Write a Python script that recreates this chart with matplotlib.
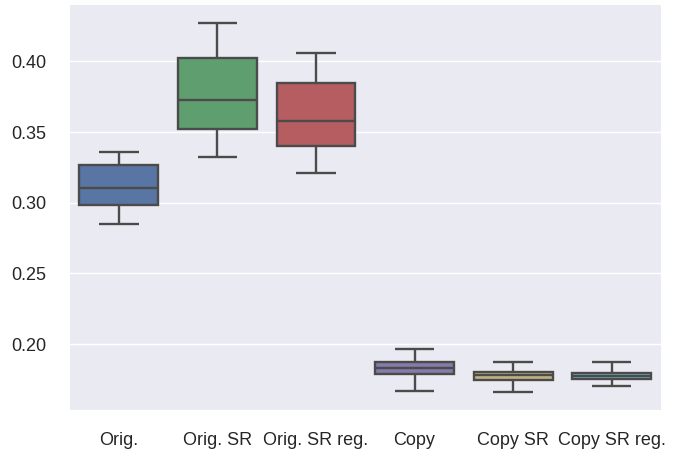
import colorsys
import matplotlib
matplotlib.use("Agg")
import matplotlib.pyplot as plt
import matplotlib.colors as mcolors

# box statistics
labels = ["Orig.", "Orig. SR", "Orig. SR reg.", "Copy", "Copy SR", "Copy SR reg."]
whis_lo = [0.2853, 0.3322, 0.3212, 0.1666, 0.1664, 0.1701]
q1 = [0.2983, 0.3521, 0.3400, 0.1789, 0.1749, 0.1756]
med = [0.3101, 0.3726, 0.3577, 0.1829, 0.1782, 0.1777]
q3 = [0.3266, 0.4023, 0.3844, 0.1874, 0.1800, 0.1796]
whis_hi = [0.3358, 0.4269, 0.4057, 0.1966, 0.1871, 0.1871]

palette = ["#4C72B0", "#55A868", "#C44E52", "#8172B2", "#CCB974", "#64B5CD"]


def desaturate(c, prop=0.75):
    h, l, s = colorsys.rgb_to_hls(*mcolors.to_rgb(c))
    return colorsys.hls_to_rgb(h, l, s * prop)


plt.rcParams["font.family"] = ["Liberation Sans", "DejaVu Sans"]

fig = plt.figure(figsize=(6.76, 4.53), dpi=100)
ax = fig.add_axes([69.5 / 676, 43 / 453, 591.5 / 676, 405 / 453])
ax.set_facecolor("#EAEAF2")
for s in ax.spines.values():
    s.set_visible(False)

stats = []
for i in range(len(labels)):
    stats.append(dict(label=labels[i], whislo=whis_lo[i], q1=q1[i], med=med[i],
                      q3=q3[i], whishi=whis_hi[i], fliers=[]))

gray = "#4b4b4b"
lw = 1.7
bp = ax.bxp(stats, positions=range(len(labels)), widths=0.8, patch_artist=True,
            showfliers=False,
            boxprops=dict(edgecolor=gray, linewidth=lw),
            medianprops=dict(color=gray, linewidth=lw),
            whiskerprops=dict(color=gray, linewidth=lw, solid_capstyle="butt"),
            capprops=dict(color=gray, linewidth=lw, solid_capstyle="butt"))
for patch, c in zip(bp["boxes"], palette):
    patch.set_facecolor(desaturate(c))

ax.set_xlim(-0.5, len(labels) - 0.5)
ax.set_axisbelow(True)
ax.yaxis.grid(True, color="white", linewidth=1)
ax.xaxis.grid(False)
ax.tick_params(axis="both", length=0, labelsize=13, labelcolor="#262626")
ax.tick_params(axis="x", pad=16)
ax.tick_params(axis="y", pad=17)
ax.set_yticks([0.20, 0.25, 0.30, 0.35, 0.40])
ax.set_yticklabels(["0.20", "0.25", "0.30", "0.35", "0.40"])

fig.savefig("out.png", dpi=100)
